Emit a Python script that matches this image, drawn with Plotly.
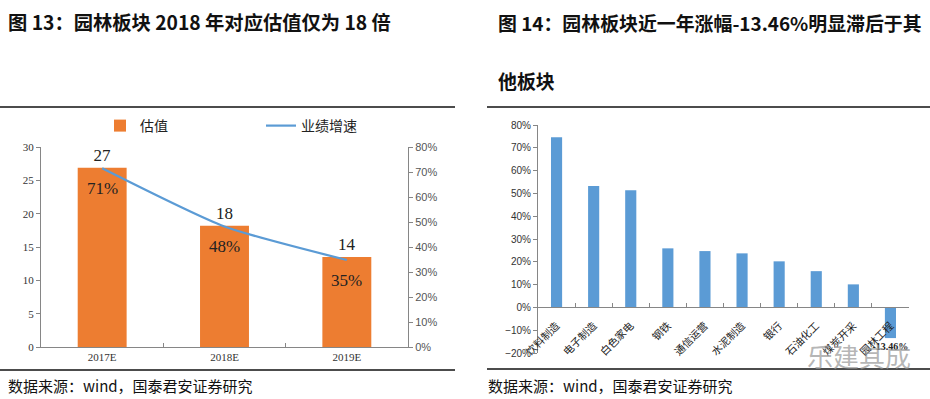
import plotly.graph_objects as go

# ---- data: left chart ----
years = ["2017E", "2018E", "2019E"]
valuation = [26.9, 18.2, 13.5]
valuation_labels = ["27", "18", "14"]
growth = [71.5, 48.2, 34.8]
growth_labels = ["71%", "48%", "35%"]

# ---- data: right chart ----
sectors = ["饮料制造", "电子制造", "白色家电", "钢铁", "通信运营", "水泥制造",
           "银行", "石油化工", "煤炭开采", "园林工程"]
change = [74.6, 53.2, 51.4, 25.9, 24.7, 23.7, 20.2, 15.9, 10.1, -13.46]
change_labels = ["", "", "", "", "", "", "", "", "", "-13.46%"]

W, H = 930, 399
def px(x):
    return x / W
def py(y):
    return (H - y) / H

SERIF = "Liberation Serif, Times New Roman, serif"
SANS = "Liberation Sans, Arial, sans-serif"
CJK = "Noto Sans CJK SC"
ORANGE = "#ED7D31"
BLUE = "#5B9BD5"
AXIS = "#868686"

fig = go.Figure()

fig.add_trace(go.Bar(
    x=years, y=valuation, name="估值", marker_color=ORANGE, width=0.4,
    text=valuation_labels, textposition="outside", cliponaxis=False,
    textfont=dict(family=SERIF, size=17, color="#222"),
    xaxis="x", yaxis="y"))
fig.add_trace(go.Scatter(
    x=years, y=growth, name="业绩增速", mode="lines",
    line=dict(color=BLUE, width=2.2, shape="spline", smoothing=0.6),
    xaxis="x", yaxis="y2"))

# growth labels placed under each line point
for yr, g, lab in zip(years, growth, growth_labels):
    fig.add_annotation(x=yr, y=g, xref="x", yref="y2", text=lab, showarrow=False,
                       yshift=-20, font=dict(family=SERIF, size=17, color="#222"))

fig.add_trace(go.Bar(
    x=sectors, y=change, marker_color=BLUE, width=0.3, showlegend=False,
    text=change_labels, textposition="outside", cliponaxis=False,
    constraintext="none",
    textfont=dict(family=SERIF, size=10, color="#222", weight="bold"),
    xaxis="x3", yaxis="y3"))

# domains
lx0, lx1 = px(41), px(408)
ly0, ly1 = py(347), py(147)
rx0, rx1 = px(538), px(909)
ry0, ry1 = py(353), py(125)
rmin, rmax = -20, 80
zero_pos = ry0 + (0 - rmin) / (rmax - rmin) * (ry1 - ry0)

common = dict(automargin=False, showgrid=False, zeroline=False,
              showline=True, linecolor=AXIS, tickcolor=AXIS, ticklen=4)

fig.update_layout(
    template="none",
    width=W, height=H, margin=dict(l=0, r=0, t=0, b=0, autoexpand=False),
    paper_bgcolor="white", plot_bgcolor="white",
    font=dict(family=CJK, color="#222"),
    showlegend=True,
    legend=dict(orientation="h", x=px(100), y=py(126), xanchor="left", yanchor="middle",
                font=dict(family=CJK, size=14, color="#222"),
                entrywidth=116, entrywidthmode="pixels", itemwidth=30,
                bgcolor="rgba(0,0,0,0)"),
    xaxis=dict(domain=[lx0, lx1], anchor="y", ticks="inside", tickson="boundaries",
               tickfont=dict(family=SERIF, size=11, color="#333"), **common),
    yaxis=dict(domain=[ly0, ly1], anchor="x", range=[0, 30], dtick=5, ticks="outside",
               tickfont=dict(family=SERIF, size=11, color="#333"), **common),
    yaxis2=dict(domain=[ly0, ly1], anchor="x", overlaying="y", side="right",
                range=[0, 80], dtick=10, ticksuffix="%", ticks="outside",
                tickfont=dict(family=SANS, size=11, color="#555"), **common),
    xaxis3=dict(domain=[rx0, rx1], anchor="free", position=zero_pos,
                ticks="inside", tickson="boundaries", tickangle=-45,
                ticklabelstandoff=7,
                tickfont=dict(family=CJK, size=10.5, color="#222"), **common),
    yaxis3=dict(domain=[ry0, ry1], anchor="x3", range=[rmin, rmax], dtick=10,
                ticksuffix="%", ticks="outside",
                tickfont=dict(family=SANS, size=10, color="#333"), **common),
)

# separator lines
for x0, x1, y in [(0, 455, 107), (0, 455, 370), (487, 930, 107), (487, 930, 369)]:
    fig.add_shape(type="line", xref="paper", yref="paper",
                  x0=px(x0), x1=px(x1), y0=py(y), y1=py(y),
                  line=dict(color="#111", width=1.5))

# titles and sources
def note(text, x, y, size, bold=False, color="#111", family=CJK):
    fig.add_annotation(xref="paper", yref="paper", x=px(x), y=py(y),
                       xanchor="left", yanchor="middle", showarrow=False,
                       text=f"<b>{text}</b>" if bold else text,
                       font=dict(family=family, size=size, color=color))

note("图 13：园林板块 2018 年对应估值仅为 18 倍", 6, 22, 19.3, bold=True)
note("图 14：园林板块近一年涨幅-13.46%明显滞后于其", 496, 22, 18.9, bold=True)
note("他板块", 496, 80, 18.9, bold=True)
note("数据来源：wind，国泰君安证券研究", 6, 385, 15)
note("数据来源：wind，国泰君安证券研究", 486, 385, 15)
note("乐建其成", 805, 355, 26, color="rgba(150,150,150,0.7)")

fig.write_html("out.html", config={"displayModeBar": False},
               post_script="document.body.style.margin='0';")
